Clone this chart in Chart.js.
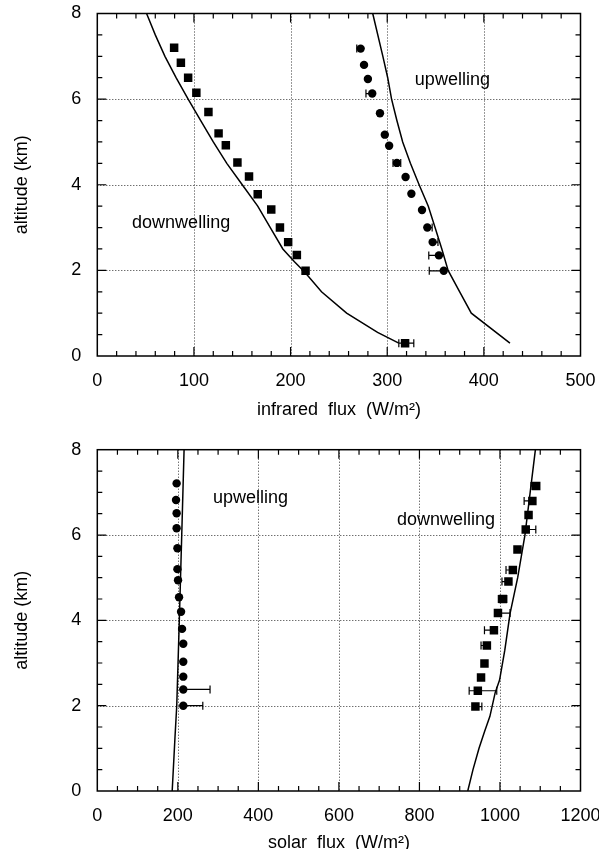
<!DOCTYPE html>
<html>
<head>
<meta charset="utf-8">
<script src="https://cdn.jsdelivr.net/npm/chart.js@4.4.1/dist/chart.umd.min.js"></script>
<style>
  html, body { margin: 0; padding: 0; background: #fff; overflow: hidden; }
  .panel { position: absolute; left: 0; width: 599px; height: 430px; }
  #irPanel { top: 0; }
  #solarPanel { top: 430px; }
</style>
</head>
<body>
<div class="panel" id="irPanel"><canvas id="irChart" width="599" height="430"></canvas></div>
<div class="panel" id="solarPanel"><canvas id="solarChart" width="599" height="430"></canvas></div>
<script>
// ---- data: infrared panel ----
const irFluxTicks = [0, 100, 200, 300, 400, 500];
const altitudeTicks = [0, 2, 4, 6, 8];

// measured downwelling (squares)
const irDownAlt  = [7.2, 6.85, 6.5, 6.15, 5.7, 5.2, 4.92, 4.52, 4.19, 3.78, 3.42, 3.0, 2.66, 2.36, 1.99, 0.3];
const irDownFlux = [79.5, 86.5, 94, 102.5, 115, 125.5, 133, 145, 157, 166, 180, 189, 197.5, 206.5, 215.5, 318.5];
const irDownErrLo = [null, null, null, null, null, null, null, null, null, null, null, null, null, null, null, 312];
const irDownErrHi = [null, null, null, null, null, null, null, null, null, null, null, null, null, null, null, 327.5];

// measured upwelling (circles)
const irUpAlt  = [7.18, 6.8, 6.47, 6.13, 5.67, 5.17, 4.91, 4.51, 4.18, 3.79, 3.41, 3.0, 2.66, 2.35, 1.99];
const irUpFlux = [272.5, 276, 280, 284.5, 292.5, 297.5, 302, 310, 319, 325, 336, 341.5, 347, 353.5, 358.5];
const irUpErrLo = [268.5, null, null, 278, null, null, null, 306, null, null, null, null, null, 343, 343.5];
const irUpErrHi = [null, null, null, null, null, null, null, 314, null, null, null, 346.5, 352.5, null, null];

// model curves
const irDownModelAlt  = [8.0, 7.5, 7.0, 6.5, 6.0, 5.5, 5.0, 4.5, 4.0, 3.5, 3.0, 2.5, 2.2, 1.95, 1.5, 1.0, 0.55, 0.3];
const irDownModelFlux = [51, 60, 70, 81.5, 94, 107, 120, 134, 150, 166, 179, 192, 204, 215, 232, 258, 290, 312];
const irUpModelAlt  = [8.0, 7.0, 6.5, 6.0, 5.5, 5.0, 4.5, 4.0, 3.5, 3.0, 2.5, 2.0, 1.5, 1.0, 0.3];
const irUpModelFlux = [285, 295.5, 300.5, 304.5, 310, 316, 324, 333, 342.5, 349.5, 356.5, 363, 375, 387, 427];

// ---- data: solar panel ----
const solarFluxTicks = [0, 200, 400, 600, 800, 1000, 1200];

const solarUpAlt  = [7.21, 6.82, 6.51, 6.16, 5.69, 5.2, 4.94, 4.54, 4.2, 3.8, 3.45, 3.03, 2.68, 2.38, 2.0];
const solarUpFlux = [197, 195.5, 197, 197, 199, 199, 200.5, 203, 208, 210.5, 213.5, 213.5, 213.5, 213.5, 213.5];
const solarUpErrLo = [null, null, null, null, null, null, null, null, null, null, null, null, null, null, null];
const solarUpErrHi = [null, null, null, null, null, null, null, null, null, null, null, null, null, 280, 262];

const solarDownAlt  = [7.15, 6.8, 6.47, 6.13, 5.66, 5.18, 4.91, 4.5, 4.17, 3.77, 3.41, 2.99, 2.66, 2.35, 1.98];
const solarDownFlux = [1090, 1080.5, 1071, 1064, 1043.5, 1032, 1021, 1007, 995, 985, 967.5, 961.5, 953, 945, 939];
const solarDownErrLo = [1077, 1060, null, null, null, 1015, 1005, 996, null, 961.5, 953, null, null, 923.5, null];
const solarDownErrHi = [null, null, null, 1089, null, null, null, 1017, 1025, null, null, null, null, 992, 955];

const solarUpModelAlt  = [8.0, 6.0, 4.0, 2.0, 1.27, 0.0];
const solarUpModelFlux = [215.5, 209.7, 203.7, 197.3, 193, 186];
const solarDownModelAlt  = [8.0, 7.0, 6.0, 5.0, 4.16, 3.3, 2.6, 2.3, 1.75, 1.4, 1.0, 0.5, 0.0];
const solarDownModelFlux = [1088, 1075, 1062, 1044, 1025, 1012, 999, 988, 975, 962, 948, 933, 920];

// ---- layout ----
const CANVAS_H = 430;
const PLOT_LEFT = 97.3;
const PLOT_RIGHT = 580.5;
const FONT = '"Liberation Sans", Arial, Helvetica, sans-serif';
const tickFont = { family: FONT, size: 18 };
const titleFont = { family: FONT, size: 18 };

function pts(xs, ys) {
    return xs.map((v, i) => ({ x: v, y: ys[i] }));
}

function markerSet(xs, ys, style, radius, lo, hi) {
    return {
        data: pts(xs, ys),
        pointStyle: style,
        pointRadius: radius,
        backgroundColor: '#000',
        borderColor: '#000',
        borderWidth: 0,
        showLine: false,
        errLo: lo,
        errHi: hi
    };
}

function modelSet(xs, ys) {
    return {
        data: pts(xs, ys),
        showLine: true,
        pointRadius: 0,
        borderColor: '#000',
        borderWidth: 1.5,
        tension: 0,
        fill: false
    };
}

// frame, inward ticks, dotted grid, error bars and text labels
const frameTicks = {
    id: 'frameTicks',
    beforeDatasetsDraw(chart, args, opts) {
        const { ctx, chartArea: a, scales: { x, y } } = chart;
        ctx.save();
        ctx.strokeStyle = '#333';
        ctx.lineWidth = 1;
        ctx.setLineDash([1, 2]);
        ctx.beginPath();
        x.ticks.forEach(t => {
            if (t.value <= x.min || t.value >= x.max) return;
            const px = Math.round(x.getPixelForValue(t.value)) + 0.5;
            ctx.moveTo(px, a.top);
            ctx.lineTo(px, a.bottom);
        });
        y.ticks.forEach(t => {
            if (t.value <= y.min || t.value >= y.max) return;
            const py = Math.round(y.getPixelForValue(t.value)) + 0.5;
            ctx.moveTo(a.left, py);
            ctx.lineTo(a.right, py);
        });
        ctx.stroke();
        ctx.restore();
    },
    afterDatasetsDraw(chart, args, opts) {
        const { ctx, chartArea: a, scales: { x, y } } = chart;
        ctx.save();
        ctx.strokeStyle = '#000';
        ctx.fillStyle = '#000';

        // error bars
        ctx.lineWidth = 1.2;
        chart.data.datasets.forEach((ds, di) => {
            if (!ds.errLo) return;
            const meta = chart.getDatasetMeta(di);
            meta.data.forEach((el, i) => {
                const lo = ds.errLo[i], hi = ds.errHi[i];
                if (lo == null && hi == null) return;
                const x1 = lo == null ? el.x : x.getPixelForValue(lo);
                const x2 = hi == null ? el.x : x.getPixelForValue(hi);
                ctx.beginPath();
                ctx.moveTo(x1, el.y);
                ctx.lineTo(x2, el.y);
                if (lo != null) { ctx.moveTo(x1, el.y - 4); ctx.lineTo(x1, el.y + 4); }
                if (hi != null) { ctx.moveTo(x2, el.y - 4); ctx.lineTo(x2, el.y + 4); }
                ctx.stroke();
            });
        });

        // frame
        ctx.lineWidth = 1.5;
        ctx.strokeRect(a.left, a.top, a.right - a.left, a.bottom - a.top);

        // ticks, pointing inward on all four sides
        ctx.lineWidth = 1.2;
        ctx.beginPath();
        const xMajor = x.ticks.map(t => t.value);
        for (let v = x.min; v <= x.max + 1e-6; v += opts.xMinor) {
            if (v <= x.min || v >= x.max) continue;
            const len = xMajor.some(m => Math.abs(m - v) < 1e-6) ? 9 : 5;
            const px = x.getPixelForValue(v);
            ctx.moveTo(px, a.bottom); ctx.lineTo(px, a.bottom - len);
            ctx.moveTo(px, a.top); ctx.lineTo(px, a.top + len);
        }
        const yMajor = y.ticks.map(t => t.value);
        for (let v = y.min; v <= y.max + 1e-6; v += opts.yMinor) {
            if (v <= y.min || v >= y.max) continue;
            const len = yMajor.some(m => Math.abs(m - v) < 1e-6) ? 9 : 5;
            const py = y.getPixelForValue(v);
            ctx.moveTo(a.left, py); ctx.lineTo(a.left + len, py);
            ctx.moveTo(a.right, py); ctx.lineTo(a.right - len, py);
        }
        ctx.stroke();

        // curve labels
        ctx.font = '18px ' + FONT;
        ctx.textBaseline = 'middle';
        (opts.notes || []).forEach(n => {
            ctx.textAlign = n.align;
            ctx.fillText(n.text, x.getPixelForValue(n.x), y.getPixelForValue(n.y));
        });
        ctx.restore();
    }
};

function makeChart(canvasId, cfg) {
    return new Chart(document.getElementById(canvasId), {
        type: 'scatter',
        data: { datasets: cfg.datasets },
        options: {
            responsive: false,
            animation: false,
            events: [],
            layout: { padding: { left: 0, right: 599 - PLOT_RIGHT, top: cfg.top, bottom: 0 } },
            plugins: {
                legend: { display: false },
                tooltip: { enabled: false },
                frameTicks: { notes: cfg.notes, xMinor: cfg.xMinor, yMinor: 0.5 }
            },
            scales: {
                x: {
                    type: 'linear',
                    min: cfg.xTicks[0],
                    max: cfg.xTicks[cfg.xTicks.length - 1],
                    afterBuildTicks: s => { s.ticks = cfg.xTicks.map(v => ({ value: v })); },
                    afterFit: s => { s.height = CANVAS_H - cfg.bottom; s.paddingLeft = 0; s.paddingRight = 0; },
                    grid: { display: false, drawTicks: false },
                    border: { display: false },
                    ticks: { color: '#000', font: tickFont, padding: 14, maxRotation: 0, autoSkip: false, callback: v => String(v) },
                    title: { display: true, text: cfg.xTitle, color: '#000', font: titleFont, padding: { top: 0, bottom: cfg.xTitlePad } }
                },
                y: {
                    type: 'linear',
                    min: 0,
                    max: 8,
                    afterBuildTicks: s => { s.ticks = altitudeTicks.map(v => ({ value: v })); },
                    afterFit: s => { s.width = PLOT_LEFT; s.paddingTop = 0; s.paddingBottom = 0; },
                    grid: { display: false, drawTicks: false },
                    border: { display: false },
                    ticks: { color: '#000', font: tickFont, padding: 16, callback: v => String(v) },
                    title: { display: true, text: 'altitude (km)', color: '#000', font: titleFont, padding: { top: 11, bottom: 0 } }
                }
            }
        },
        plugins: [frameTicks]
    });
}

makeChart('irChart', {
    top: 13.5,
    bottom: 356,
    xTicks: irFluxTicks,
    xMinor: 20,
    xTitle: 'infrared  flux  (W/m²)',
    xTitlePad: 9,
    notes: [
        { text: 'upwelling', x: 328.6, y: 6.45, align: 'left' },
        { text: 'downwelling', x: 36, y: 3.11, align: 'left' }
    ],
    datasets: [
        markerSet(irDownFlux, irDownAlt, 'rect', 6, irDownErrLo, irDownErrHi),
        markerSet(irUpFlux, irUpAlt, 'circle', 4.2, irUpErrLo, irUpErrHi),
        modelSet(irDownModelFlux, irDownModelAlt),
        modelSet(irUpModelFlux, irUpModelAlt)
    ]
});

makeChart('solarChart', {
    top: 19.7,
    bottom: 361,
    xTicks: solarFluxTicks,
    xMinor: 50,
    xTitle: 'solar  flux  (W/m²)',
    xTitlePad: 6,
    notes: [
        { text: 'upwelling', x: 287.5, y: 6.87, align: 'left' },
        { text: 'downwelling', x: 988, y: 6.35, align: 'right' }
    ],
    datasets: [
        markerSet(solarDownFlux, solarDownAlt, 'rect', 6, solarDownErrLo, solarDownErrHi),
        markerSet(solarUpFlux, solarUpAlt, 'circle', 4.2, solarUpErrLo, solarUpErrHi),
        modelSet(solarUpModelFlux, solarUpModelAlt),
        modelSet(solarDownModelFlux, solarDownModelAlt)
    ]
});
</script>
</body>
</html>
